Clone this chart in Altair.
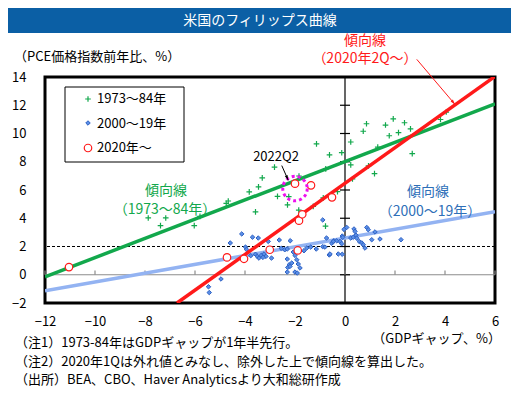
import altair as alt
import pandas as pd

FONT = "Noto Sans CJK JP"

# ---- data ----
series_names = ["1973～84年", "2000～19年", "2020年～"]

g_gap = [-7.87, -7.38, -7.17, -6.03, -5.80, -4.67, -4.75, -3.83, -3.58, -3.46, -3.31, -2.82, -2.70, -2.25,
         -2.30, -1.84, -1.85, -1.27, -1.14, -0.77, -0.87, -0.78, -0.62, -0.30, -0.13, 0.23, 0.23, 0.30,
         0.73, 0.86, 0.94, 1.18, 1.31, 1.62, 1.77, 1.93, 2.14, 2.38, 2.62, 2.69, 3.82, 4.05]
g_pce = [4.02, 3.48, 4.02, 3.48, 4.13, 5.22, 5.05, 5.87, 4.45, 6.22, 6.86, 7.62, 5.55, 5.53,
         4.95, 6.99, 4.57, 4.84, 9.27, 7.50, 5.44, 3.44, 8.49, 5.89, 8.64, 9.40, 7.78, 6.79,
         10.16, 10.69, 7.71, 7.16, 9.03, 10.60, 9.84, 11.04, 10.06, 10.76, 10.33, 8.58, 10.99, 11.52]

b_gap = [-5.46, -5.43, -4.96, -4.59, -4.13, -3.70, -3.47, -3.98, -3.94, -3.77, -3.58, -3.51, -3.44, -3.35,
         -3.24, -3.16, -3.28, -3.07, -2.94, -2.63, -2.55, -2.41, -2.31, -2.19, -2.07, -2.00, -2.31, -2.23,
         -2.13, -2.29, -2.20, -2.31, -2.00, -1.91, -1.93, -1.87, -1.80, -1.64, -1.53, -1.37, -1.15, -0.89,
         -0.89, -0.80, -0.63, -0.74, -0.53, -0.44, -0.33, -0.27, -0.11, -0.11, -0.04, 0.07, -0.20, -0.13,
         0.23, 0.33, 0.44, 0.47, 0.36, 0.40, 0.57, 0.67, 0.73, 0.80, 0.87, 0.93, 1.20, 1.07, 1.40, 2.24,
         -0.60, -0.09, -0.47]
b_pce = [-0.85, -1.26, -0.30, 2.25, 2.89, 2.66, 2.60, 1.96, 1.79, 1.35, 1.45, 1.30, 1.18, 1.37,
         1.47, 1.30, 1.23, 2.36, 1.18, 2.46, 1.87, 1.77, 1.82, 2.41, 1.61, 1.37, 1.11, 0.71,
         0.83, 0.52, 0.59, 0.19, 0.19, 0.12, 1.06, 0.76, 0.48, 1.70, 1.89, 1.96, 1.82, 3.88,
         1.99, 1.96, 1.40, 2.60, 2.23, 2.40, 2.40, 1.47, 1.45, 2.74, 3.21, 3.35, 2.36, 2.20,
         2.60, 2.65, 2.80, 2.59, 3.24, 3.07, 2.36, 2.25, 2.13, 1.89, 3.35, 3.19, 3.03, 2.48, 2.53, 2.48,
         1.47, 2.65, 2.36]

r_gap = [-11.04, -4.72, -4.04, -3.01, -1.89, -1.84, -1.71, -0.52, -1.36, -2.00]
r_pce = [0.54, 1.23, 1.13, 1.77, 1.72, 3.83, 4.28, 5.48, 6.33, 6.45]

# trend line end points
g_line_gap = [-12, 6]
g_line_pce = [-0.15, 12.1]
b_line_gap = [-12, 6]
b_line_pce = [-1.13, 4.47]
r_line_gap = [-6.72, 6]
r_line_pce = [-2.0, 14.04]

x_ticks = [-12, -10, -8, -6, -4, -2, 0, 2, 4, 6]
y_ticks = [-2, 0, 2, 4, 6, 8, 10, 12, 14]

assert len(g_gap) == len(g_pce) and len(b_gap) == len(b_pce) and len(r_gap) == len(r_pce)

GREEN = "#12a84c"
BLUE_LINE = "#93b3f2"
RED = "#ff1a1a"
D_FILL = "#5a8ee6"
D_STROKE = "#2f62c4"
CROSS = "M-1,0H1M0,-1V1"

xs = alt.Scale(domain=[-12, 6], nice=False, zero=False)
ys = alt.Scale(domain=[-2, 14], nice=False, zero=False)
AX = alt.Axis(values=x_ticks, title=None, grid=False, ticks=False, domain=False,
              labelFontSize=13, labelFont=FONT, labelColor="black", labelPadding=12, labelFlush=False)
AY = alt.Axis(values=y_ticks, title=None, grid=False, ticks=False, domain=False,
              labelFontSize=13, labelFont=FONT, labelColor="black", labelPadding=19, labelFlush=False)


def XF(f="gap"):
    return alt.X(f"{f}:Q", scale=xs, axis=AX)


def YF(f="pce"):
    return alt.Y(f"{f}:Q", scale=ys, axis=AY)


one = alt.Data(values=[{"k": 1}])


def ptext(x, y, t, size=13, color="black", align="left"):
    return alt.Chart(one).mark_text(color=color, fontSize=size, font=FONT, align=align,
                                    baseline="middle").encode(x=alt.value(x), y=alt.value(y), text=alt.value(t))


header = alt.Chart(one).mark_rect(color="#0b5fa5").encode(
    x=alt.value(-37), x2=alt.value(466), y=alt.value(-69), y2=alt.value(-44))
header_text = ptext(215, -56, "米国のフィリップス曲線", 14, "white", "center")
ytitle = ptext(-31, -20, "（PCE価格指数前年比、%）")
xtitle = ptext(456, 262, "（GDPギャップ、%）", align="right")

notes = ["（注1）1973-84年はGDPギャップが1年半先行。",
         "（注2）2020年1Qは外れ値とみなし、除外した上で傾向線を算出した。",
         "（出所）BEA、CBO、Haver Analyticsより大和総研作成"]
note_layers = [ptext(-30, 266 + 18.5 * i, t) for i, t in enumerate(notes)]

# legend (drawn by hand)
legend_box = alt.Chart(one).mark_rect(fill="white", stroke="black", strokeWidth=1).encode(
    x=alt.value(20), x2=alt.value(139), y=alt.value(10), y2=alt.value(85))
leg_sym = [
    alt.Chart(one).mark_point(shape=CROSS, size=32, stroke=GREEN, strokeWidth=1.2, opacity=1).encode(
        x=alt.value(43), y=alt.value(22)),
    alt.Chart(one).mark_point(shape="diamond", size=20, fill=D_FILL, stroke=D_STROKE, strokeWidth=1,
                              filled=True, opacity=1).encode(x=alt.value(43), y=alt.value(46)),
    alt.Chart(one).mark_point(shape="circle", size=56, fill="white", stroke=RED, strokeWidth=1.2,
                              filled=True, opacity=1).encode(x=alt.value(43), y=alt.value(71)),
]
leg_txt = [ptext(52, 22 + 24.5 * i, s) for i, s in enumerate(series_names)]

dash2 = alt.Chart(pd.DataFrame({"pce": [2]})).mark_rule(color="black", strokeWidth=1,
                                                         strokeDash=[3, 2]).encode(y=YF())
zero_h = alt.Chart(pd.DataFrame({"pce": [0]})).mark_rule(color="#8c8c8c", strokeWidth=1.2).encode(y=YF())
zero_v = alt.Chart(pd.DataFrame({"gap": [0]})).mark_rule(color="black", strokeWidth=1.2).encode(x=XF())

ytk = pd.DataFrame({"pce": y_ticks, "a": [-0.2] * len(y_ticks), "b": [0.2] * len(y_ticks)})
ytick_marks = alt.Chart(ytk).mark_rule(color="black", strokeWidth=1.2).encode(x=XF("a"), x2="b:Q", y=YF())
xtk = pd.DataFrame({"gap": x_ticks, "a": [0] * len(x_ticks), "b": [0.3] * len(x_ticks)})
xtick_marks = alt.Chart(xtk).mark_rule(color="#8c8c8c", strokeWidth=1.2).encode(x=XF(), y=YF("a"), y2="b:Q")


def trend(gx, gy, color):
    df = pd.DataFrame({"gap": gx, "pce": gy})
    return alt.Chart(df).mark_line(color=color, strokeWidth=3.5, clip=True).encode(x=XF(), y=YF())


blue_line = trend(b_line_gap, b_line_pce, BLUE_LINE)
green_line = trend(g_line_gap, g_line_pce, GREEN)
red_line = trend(r_line_gap, r_line_pce, RED)

diamonds = alt.Chart(pd.DataFrame({"gap": b_gap, "pce": b_pce})).mark_point(
    shape="diamond", size=20, fill=D_FILL, stroke=D_STROKE, strokeWidth=1, filled=True, opacity=1).encode(
    x=XF(), y=YF())
crosses = alt.Chart(pd.DataFrame({"gap": g_gap, "pce": g_pce})).mark_point(
    shape=CROSS, size=32, stroke=GREEN, strokeWidth=1.2, opacity=1).encode(x=XF(), y=YF())
circles = alt.Chart(pd.DataFrame({"gap": r_gap, "pce": r_pce})).mark_point(
    shape="circle", size=56, fill="white", stroke=RED, strokeWidth=1.2, filled=True, opacity=1).encode(
    x=XF(), y=YF())

# 2022Q2 highlight
hl = pd.DataFrame({"gap": [-2.0], "pce": [6.1]})
highlight = alt.Chart(hl).mark_point(shape="circle", size=600, filled=False, stroke="#ee10ee", strokeWidth=3,
                                     strokeDash=[3, 3], opacity=1).encode(x=XF(), y=YF())

# annotations
ann_green = pd.DataFrame({"gap": [-7.16, -7.2], "pce": [5.9, 4.55], "label": ["傾向線", "（1973～84年）"]})
ann_blue = pd.DataFrame({"gap": [3.32, 3.4], "pce": [5.85, 4.45], "label": ["傾向線", "（2000～19年）"]})
ann_red = pd.DataFrame({"gap": [0.8, 0.8], "pce": [16.55, 15.25], "label": ["傾向線", "（2020年2Q～）"]})
ann_q = pd.DataFrame({"gap": [-2.76], "pce": [8.37], "label": ["2022Q2"]})


def ann(df, color, size=14):
    return alt.Chart(df).mark_text(color=color, fontSize=size, font=FONT, align="center",
                                   baseline="middle").encode(x=XF(), y=YF(), text="label:N")


def arrow(x1, y1, x2, y2, color, ang):
    df = pd.DataFrame({"gap": [x1], "pce": [y1], "gap2": [x2], "pce2": [y2]})
    line = alt.Chart(df).mark_rule(strokeWidth=1, color=color).encode(x=XF(), y=YF(), x2="gap2:Q", y2="pce2:Q")
    head = alt.Chart(df).mark_point(shape="M0,0L0.6,2L-0.6,2Z", filled=True, size=25, opacity=1,
                                    color=color, angle=ang).encode(x=XF("gap2"), y=YF("pce2"))
    return [line, head]


chart = alt.layer(
    header, header_text, ytitle, xtitle, *note_layers,
    dash2, zero_h, zero_v, ytick_marks, xtick_marks,
    blue_line, diamonds, crosses, green_line, red_line, circles, highlight,
    legend_box, *leg_sym, *leg_txt,
    ann(ann_green, GREEN), ann(ann_blue, "#2e6fb8"), ann(ann_red, RED), ann(ann_q, "black", 13),
    *arrow(2.87, 15.25, 4.4, 12.06, RED, 139.6),
    *arrow(-2.53, 7.73, -2.27, 6.69, "black", 155.8),
).properties(
    width=450, height=226,
    autosize=alt.AutoSizeParams(type="none"),
    padding={"left": 37, "top": 69, "right": 16, "bottom": 85},
).configure_view(stroke="black", strokeWidth=3)

chart.save("out.html", embed_options={"renderer": "svg", "actions": False})
